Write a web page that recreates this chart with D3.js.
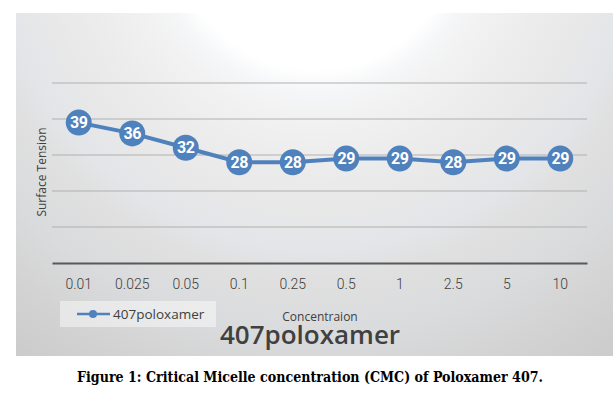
<!DOCTYPE html>
<html>
<head>
<meta charset="utf-8">
<script src="https://cdn.jsdelivr.net/npm/d3@7/dist/d3.min.js"></script>
<style>
  body { margin: 0; background: #fff; }
  svg { display: block; }
</style>
</head>
<body>
<div id="chart"></div>
<script>
// concentrations (x categories) and surface tension readings
var concentrations = ["0.01", "0.025", "0.05", "0.1", "0.25", "0.5", "1", "2.5", "5", "10"];
var surfaceTension = [39, 36, 32, 28, 28, 29, 29, 28, 29, 29];
var yTicks = [10, 20, 30, 40, 50];
var seriesName = "407poloxamer";

var w = 613;
var h = 394;
var plotLeft = 52, plotRight = 587, plotTop = 83, plotBottom = 263;
var blue = "#4f81bd";

var svg = d3.select("#chart")
            .append("svg")
            .attr("width", w)
            .attr("height", h);

// radial background, white glow at top centre
var defs = svg.append("defs");
var grad = defs.append("radialGradient")
               .attr("id", "bg")
               .attr("gradientUnits", "userSpaceOnUse")
               .attr("cx", 316)
               .attr("cy", -70)
               .attr("r", 560);
[[0, "#ffffff"], [0.25, "#ffffff"], [0.29, "#f5f6f8"], [0.33, "#f2f2f2"],
 [0.42, "#ececec"], [0.5, "#e8e8e8"], [0.57, "#e3e5e8"], [0.62, "#e0e0e0"],
 [0.72, "#dadbdd"], [0.82, "#d3d3d3"], [0.92, "#cccccc"], [1, "#c4c4c4"]].forEach(function(s) {
  grad.append("stop").attr("offset", s[0]).attr("stop-color", s[1]);
});

svg.append("rect")
   .attr("x", 16)
   .attr("y", 13)
   .attr("width", w - 16)
   .attr("height", 343)
   .attr("fill", "url(#bg)");

var x = d3.scaleBand()
          .domain(concentrations)
          .range([plotLeft, plotRight]);

var y = d3.scaleLinear()
          .domain([0, 50])
          .range([plotBottom, plotTop]);

// gridlines
svg.append("g")
   .selectAll("line")
   .data(yTicks)
   .enter()
   .append("line")
   .attr("x1", plotLeft)
   .attr("x2", plotRight)
   .attr("y1", function(d) { return y(d); })
   .attr("y2", function(d) { return y(d); })
   .attr("stroke", "#b0b0b0")
   .attr("stroke-width", 1);

// x axis
var xAxis = d3.axisBottom(x).tickSize(0).tickPadding(16);
var gx = svg.append("g")
   .attr("transform", "translate(0," + plotBottom + ")")
   .call(xAxis);
gx.select(".domain").attr("stroke", "#595959").attr("stroke-width", 2);
gx.selectAll("text")
  .attr("fill", "#404040")
  .style("font-family", "Roboto, sans-serif")
  .style("font-weight", "300")
  .style("font-size", "14px");

// y axis title
svg.append("text")
   .attr("transform", "translate(46,172) rotate(-90)")
   .attr("text-anchor", "middle")
   .attr("fill", "#404040")
   .style("font-family", "'Open Sans', sans-serif")
   .style("font-size", "12px")
   .text("Surface Tension");

// series line
var line = d3.line()
             .x(function(d, i) { return x(concentrations[i]) + x.bandwidth() / 2; })
             .y(function(d) { return y(d); });

svg.append("path")
   .datum(surfaceTension)
   .attr("d", line)
   .attr("fill", "none")
   .attr("stroke", blue)
   .attr("stroke-width", 4);

svg.selectAll("circle.pt")
   .data(surfaceTension)
   .enter()
   .append("circle")
   .attr("class", "pt")
   .attr("cx", function(d, i) { return x(concentrations[i]) + x.bandwidth() / 2; })
   .attr("cy", function(d) { return y(d); })
   .attr("r", 13)
   .attr("fill", blue);

svg.selectAll("text.lbl")
   .data(surfaceTension)
   .enter()
   .append("text")
   .attr("class", "lbl")
   .attr("x", function(d, i) { return x(concentrations[i]) + x.bandwidth() / 2; })
   .attr("y", function(d) { return y(d) + 5.5; })
   .attr("text-anchor", "middle")
   .attr("fill", "#ffffff")
   .style("font-family", "Roboto, 'Liberation Sans', sans-serif")
   .style("font-weight", "bold")
   .style("letter-spacing", "-0.5px")
   .style("font-size", "16px")
   .text(function(d) { return d; });

// legend
var lg = svg.append("g");
lg.append("rect")
  .attr("x", 60)
  .attr("y", 301)
  .attr("width", 156)
  .attr("height", 26)
  .attr("fill", "#ffffff")
  .attr("fill-opacity", 0.45);
lg.append("line")
  .attr("x1", 77).attr("x2", 110)
  .attr("y1", 314).attr("y2", 314)
  .attr("stroke", blue)
  .attr("stroke-width", 2.5);
lg.append("circle")
  .attr("cx", 93).attr("cy", 314).attr("r", 4)
  .attr("fill", blue);
lg.append("text")
  .attr("x", 113)
  .attr("y", 319)
  .attr("fill", "#404040")
  .style("font-family", "'Open Sans', sans-serif")
  .style("font-size", "13.5px")
  .text(seriesName);

// axis title and chart title
svg.append("text")
   .attr("x", 320)
   .attr("y", 321)
   .attr("text-anchor", "middle")
   .attr("fill", "#404040")
   .style("font-family", "'Open Sans', sans-serif")
   .style("font-size", "12px")
   .text("Concentraion");

svg.append("text")
   .attr("x", 310)
   .attr("y", 344)
   .attr("text-anchor", "middle")
   .attr("fill", "#404040")
   .style("font-family", "'Open Sans', sans-serif")
   .style("font-weight", "600")
   .style("font-size", "26px")
   .text(seriesName);

// figure caption
svg.append("text")
   .attr("x", 310)
   .attr("y", 382)
   .attr("text-anchor", "middle")
   .attr("fill", "#000000")
   .attr("textLength", 466)
   .attr("lengthAdjust", "spacingAndGlyphs")
   .style("font-family", "'DejaVu Serif', 'Liberation Serif', serif")
   .style("font-weight", "bold")
   .style("font-size", "15px")
   .text("Figure 1: Critical Micelle concentration (CMC) of Poloxamer 407.");
</script>
</body>
</html>
